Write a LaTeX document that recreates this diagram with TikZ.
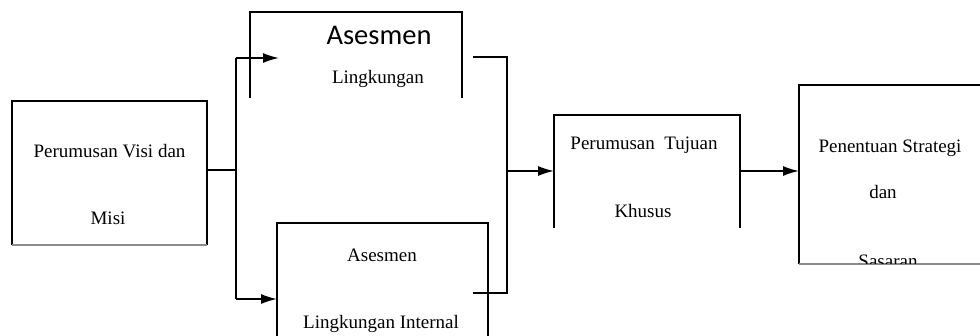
\documentclass[tikz,border=0pt]{standalone}
\usepackage{fontspec}
\setmainfont{Liberation Serif}
\newfontfamily\headfont{Carlito}
\usetikzlibrary{arrows.meta}
\tikzset{
  frame/.style={inner sep=0pt, outer sep=0pt},
  border/.style={line width=1.6pt, black},
  base/.style={line width=1.2pt, black!45},
  link/.style={line width=1.5pt, black},
  tip/.style={link, -{Latex[length=16pt,width=10pt]}},
  lbl/.style={anchor=base, inner sep=0pt, font=\fontsize{19}{23}\selectfont},
  biglbl/.style={anchor=base, inner sep=0pt, font=\headfont\fontsize{28.5}{32}\selectfont}
}
\begin{document}
\begin{tikzpicture}[x=1pt,y=-1pt]
\useasboundingbox (0,0) rectangle (980,335);

% box frames (named, drawn by their anchors below)
\node[frame, minimum width=195pt, minimum height=144pt] (visi) at (109.5,173) {};
\node[frame, minimum width=212pt, minimum height=86pt] (eks) at (356,55) {};
\node[frame, minimum width=211pt, minimum height=122pt] (int) at (382.5,284) {};
\node[frame, minimum width=186pt, minimum height=113pt] (tuj) at (647,171.5) {};
\node[frame, minimum width=190pt, minimum height=179pt] (str) at (894,174.5) {};

% open-bottomed frames
\draw[border] (eks.south west) -- (eks.north west) -- (eks.north east) -- (eks.south east);
\draw[border] (int.south west) -- (int.north west) -- (int.north east) -- (int.south east);
\draw[border] (tuj.south west) -- (tuj.north west) -- (tuj.north east) -- (tuj.south east);
% closed frames with a light lower edge
\draw[border] (visi.south west) -- (visi.north west) -- (visi.north east) -- (visi.south east);
\draw[base] (visi.south west) -- (visi.south east);
\draw[border] (str.south west) -- (str.north west) -- (str.north east) -- (str.south east);
\draw[base] (str.south west) -- (str.south east);

% labels
\node[lbl] (t1a) at (109.5,157) {Perumusan Visi dan};
\node[lbl] (t1b) at (108,224) {Misi};
\node[biglbl] (t2a) at (379,44) {Asesmen};
\node[lbl] (t2b) at (378,83) {Lingkungan};
\node[lbl] (t3a) at (382,261) {Asesmen};
\node[lbl] (t3b) at (381,328) {Lingkungan Internal};
\node[lbl] (t4a) at (644,149) {Perumusan\ \ Tujuan};
\node[lbl] (t4b) at (643,217) {Khusus};
\node[lbl] (t5a) at (890,152) {Penentuan Strategi};
\node[lbl] (t5b) at (883,198) {dan};
\begin{scope}
  \clip (str.north west) rectangle ([yshift=1pt]str.south east);
  \node[lbl] (t5c) at (888,267) {Sasaran};
\end{scope}

% junction points of the connectors
\coordinate (split) at (236,170);
\coordinate (splitTop) at (236,58);
\coordinate (splitBot) at (236,299);
\coordinate (inTop) at (279,58);
\coordinate (outTop) at (473,57);
\coordinate (outBot) at (473,293);
\coordinate (merge) at (507,171);

% connectors
\draw[link] (visi.east |- split) -- (split);
\draw[link] (splitTop) -- (splitBot);
\draw[tip] (splitTop) -- (inTop);
\draw[tip] (splitBot) -- (int.west |- splitBot);
\draw[link] (outTop) -| (merge) |- (outBot);
\draw[tip] (merge) -- (tuj.west |- merge);
\draw[tip] (tuj.east |- merge) -- (str.west |- merge);
\end{tikzpicture}
\end{document}
